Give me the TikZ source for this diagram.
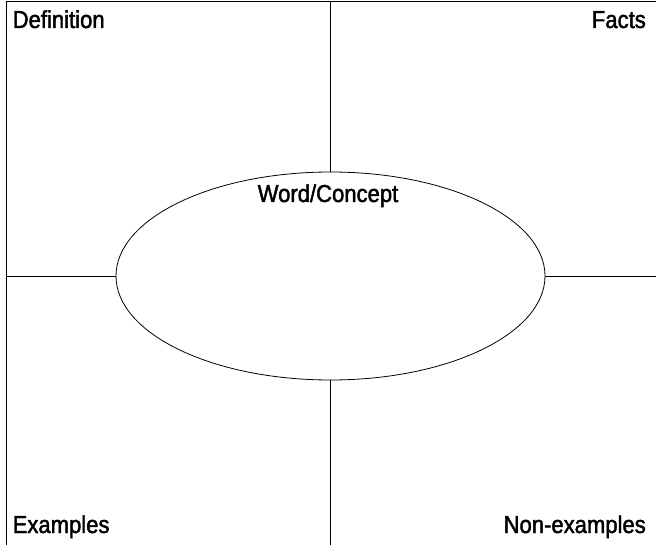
\documentclass[tikz,border=0pt]{standalone}
\usepackage{fontspec}
\setmainfont{Liberation Sans}
\newfontfamily\labelfont{Liberation Sans}[FakeBold=1.8, FakeStretch=0.9]
\usetikzlibrary{shapes.geometric, positioning}
\tikzstyle{oval} = [ellipse, draw, line width=0.8pt, minimum width=429pt, minimum height=208pt, inner sep=0pt]
\tikzstyle{corner} = [inner sep=0pt, font=\labelfont\fontsize{24.5}{27}\selectfont]
\tikzstyle{rule} = [line width=0.8pt]

\begin{document}
\begin{tikzpicture}[x=1pt, y=-1pt]
  \useasboundingbox (0,0) rectangle (656,545);
  \coordinate (bl) at (6,545);
  \coordinate (tl) at (6,1);
  \coordinate (tr) at (656,1);
  \node (concept) [oval] at (330.5,276) {};
  \node (word) [corner, anchor=base] at (328,202) {Word/Concept};
  \node (def) [corner, anchor=base west] at (12.5,28) {Definition};
  \node (facts) [corner, anchor=base east] at (646,28) {Facts};
  \node (ex) [corner, anchor=base west] at (12.5,533) {Examples};
  \node (nonex) [corner, anchor=base east] at (646,533) {Non-examples};
  \draw [rule] (bl) -- (tl) -- (tr);
  \draw [rule] (concept.north) -- (concept.north |- tl);
  \draw [rule] (concept.south) -- (concept.south |- bl);
  \draw [rule] (concept.west) -- (concept.west -| tl);
  \draw [rule] (concept.east) -- (concept.east -| tr);
\end{tikzpicture}
\end{document}
